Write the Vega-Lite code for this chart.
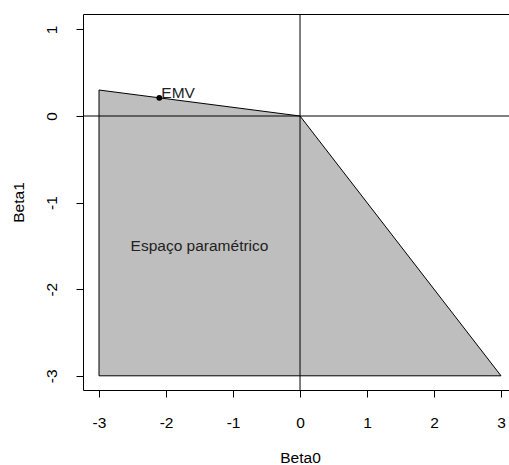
{
  "$schema": "https://vega.github.io/schema/vega-lite/v6.json",
  "width": 426,
  "height": 376,
  "autosize": {"type": "none"},
  "padding": {"left": 83, "top": 14, "right": 0, "bottom": 75},
  "background": "white",
  "view": {"stroke": null},
  "config": {
    "font": "Liberation Sans",
    "axis": {
      "labelFont": "Liberation Sans",
      "titleFont": "Liberation Sans",
      "labelFontSize": 15.5,
      "titleFontSize": 15.5,
      "titleFontWeight": "normal",
      "labelColor": "#000000",
      "titleColor": "#000000",
      "domainColor": "#000000",
      "tickColor": "#000000",
      "domainWidth": 1,
      "tickWidth": 1,
      "tickSize": 7,
      "grid": false
    }
  },
  "resolve": {"axis": {"x": "independent"}},
  "layer": [
    {
      "data": {"values": [
        {"b0": -3, "b1": 0.3, "lower": -3},
        {"b0": 0, "b1": 0, "lower": -3},
        {"b0": 3, "b1": -3, "lower": -3}
      ]},
      "mark": {"type": "area", "fill": "#bebebe", "stroke": "#000000", "strokeWidth": 1, "fillOpacity": 1, "clip": true},
      "encoding": {
        "x": {"field": "b0", "type": "quantitative",
          "scale": {"domain": [-3.239, 3.119], "nice": false, "zero": false},
          "axis": {"title": "Beta0", "values": [-3, -2, -1, 0, 1, 2, 3], "labelPadding": 18,
            "labelExpr": "datum.value < 0 ? '-' + abs(datum.value) : '' + datum.value",
            "labelFlush": false, "labelOverlap": false,
            "titleX": 217, "titleY": 67, "titleBaseline": "middle", "titleAlign": "center"}},
        "y": {"field": "b1", "type": "quantitative",
          "scale": {"domain": [-3.164, 1.178], "nice": false, "zero": false},
          "axis": {"title": "Beta1", "values": [-3, -2, -1, 0, 1], "labelAngle": 270,
            "labelExpr": "datum.value < 0 ? '-' + abs(datum.value) : '' + datum.value",
            "labelAlign": "center", "labelBaseline": "middle", "labelPadding": 25,
            "labelFlush": false, "labelOverlap": false,
            "titleX": -65, "titleY": 188, "titleAngle": 270, "titleBaseline": "middle", "titleAlign": "center"}},
        "y2": {"field": "lower"}
      }
    },
    {
      "data": {"values": [{"v": 0}]},
      "mark": {"type": "rule", "color": "#000000", "strokeWidth": 1},
      "encoding": {
        "x": {"field": "v", "type": "quantitative",
          "axis": {"orient": "top", "labels": false, "ticks": false, "title": null, "domainColor": "#000000"}}
      }
    },
    {
      "data": {"values": [{"h": 0}]},
      "mark": {"type": "rule", "color": "#000000", "strokeWidth": 1},
      "encoding": {
        "y": {"field": "h", "type": "quantitative"}
      }
    },
    {
      "data": {"values": [{"b0": -2.1, "b1": 0.21, "label": "EMV"}]},
      "mark": {"type": "point", "filled": true, "color": "#000000", "size": 34, "opacity": 1},
      "encoding": {
        "x": {"field": "b0", "type": "quantitative", "axis": null},
        "y": {"field": "b1", "type": "quantitative"}
      }
    },
    {
      "data": {"values": [{"b0": -2.1, "b1": 0.21, "label": "EMV"}]},
      "mark": {"type": "text", "align": "left", "baseline": "alphabetic", "dx": 2, "dy": 0, "fontSize": 15.5, "color": "#222222", "font": "Liberation Sans"},
      "encoding": {
        "x": {"field": "b0", "type": "quantitative", "axis": null},
        "y": {"field": "b1", "type": "quantitative"},
        "text": {"field": "label"}
      }
    },
    {
      "data": {"values": [{"b0": -1.5, "b1": -1.5, "label": "Espaço paramétrico"}]},
      "mark": {"type": "text", "align": "center", "baseline": "middle", "fontSize": 15.5, "color": "#222222", "font": "Liberation Sans"},
      "encoding": {
        "x": {"field": "b0", "type": "quantitative", "axis": null},
        "y": {"field": "b1", "type": "quantitative"},
        "text": {"field": "label"}
      }
    }
  ]
}
